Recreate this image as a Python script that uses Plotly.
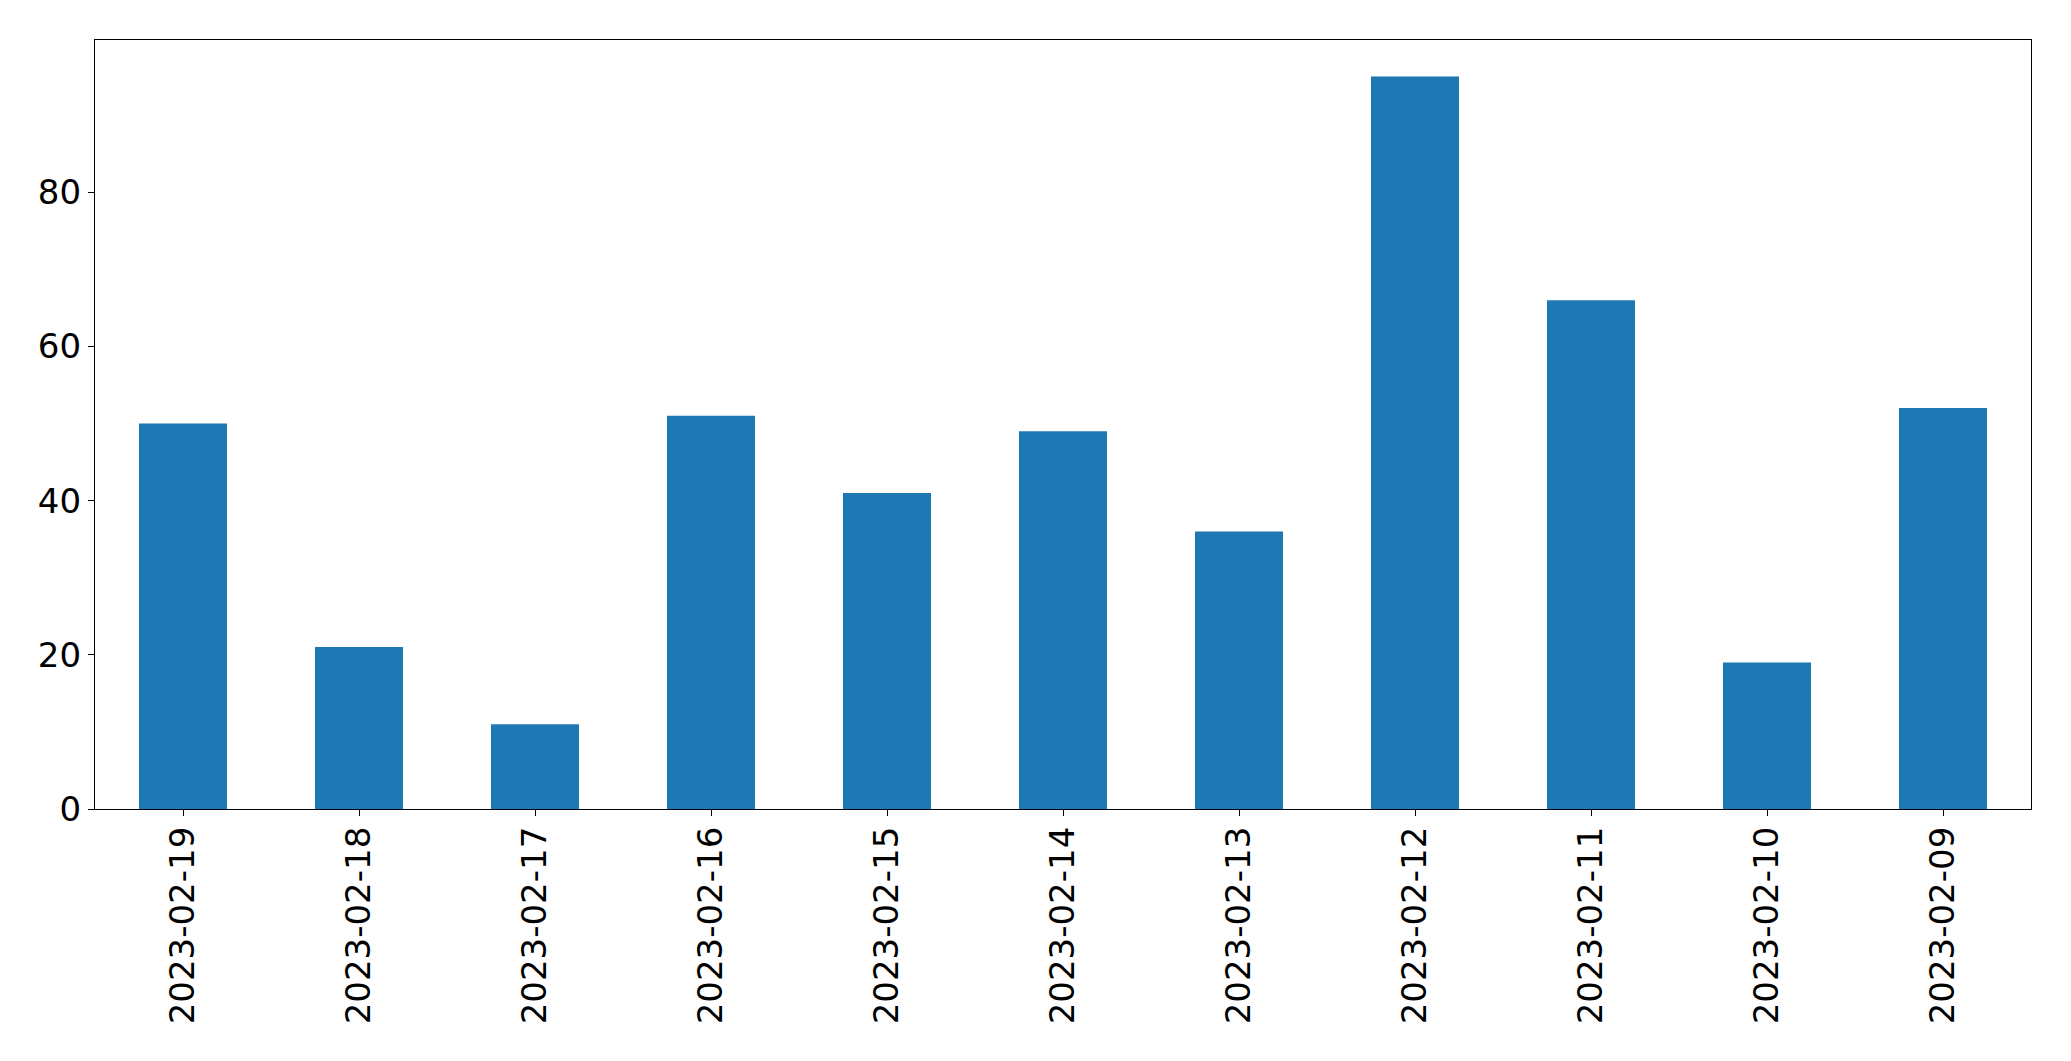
import plotly.graph_objects as go

dates = ["2023-02-19", "2023-02-18", "2023-02-17", "2023-02-16", "2023-02-15",
         "2023-02-14", "2023-02-13", "2023-02-12", "2023-02-11", "2023-02-10", "2023-02-09"]
counts = [50, 21, 11, 51, 41, 49, 36, 95, 66, 19, 52]

fig = go.Figure(go.Bar(x=dates, y=counts, marker=dict(color="#1f77b4", line=dict(width=0)), width=0.5))

fig.update_layout(
    width=2063, height=1053,
    margin=dict(l=86.5, r=39.5, t=31.5, b=252),
    paper_bgcolor="white", plot_bgcolor="white",
    font=dict(family="DejaVu Sans", size=34, color="black"),
    showlegend=False,
)
fig.update_xaxes(
    type="category", range=[-0.5, 10.5], tickangle=-90,
    showline=True, linecolor="black", linewidth=1.3, mirror=True,
    ticks="outside", ticklen=6, tickcolor="black", tickwidth=1.3,
    showgrid=False, zeroline=False, ticklabelstandoff=-3,
)
fig.update_yaxes(
    range=[0, 99.75], tickvals=[0, 20, 40, 60, 80],
    showline=True, linecolor="black", linewidth=1.3, mirror=True,
    ticks="outside", ticklen=6, tickcolor="black", tickwidth=1.3,
    showgrid=False, zeroline=False, ticklabelstandoff=0,
)
fig.write_html("out.html")
